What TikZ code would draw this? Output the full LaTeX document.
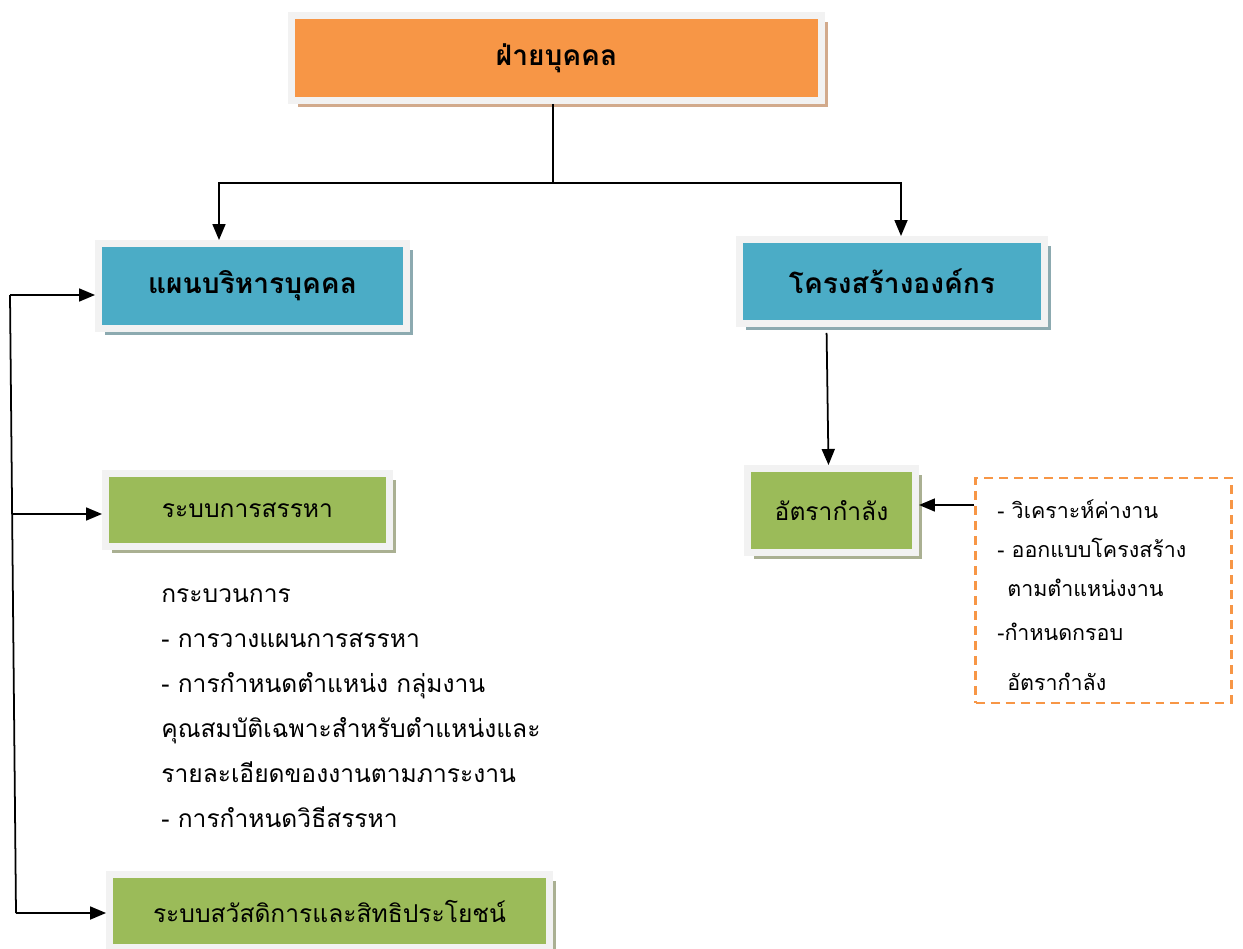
\documentclass[tikz,border=0pt]{standalone}
\usepackage{fontspec}
\setmainfont[Script=Thai]{Loma}
\usetikzlibrary{shadows,arrows.meta}

\definecolor{orangeFill}{HTML}{F79646}
\definecolor{blueFill}{HTML}{4BACC6}
\definecolor{greenFill}{HTML}{9BBB59}
\definecolor{frameGray}{HTML}{F2F2F2}
\definecolor{orangeShadow}{HTML}{D2AA8C}
\definecolor{blueShadow}{HTML}{8CAAB0}
\definecolor{greenShadow}{HTML}{AAB092}

\begin{document}
\begin{tikzpicture}[x=0.02cm, y=-0.02cm,
		frameBox/.style={rectangle, draw=frameGray, line width=0.14cm, outer sep=0.07cm, font=\fontsize{14}{16}\selectfont},
		arr/.style={-{Triangle[length=0.32cm,width=0.26cm]}, line width=1pt}]
			\useasboundingbox (0,0) rectangle (1243,949);

			% top level
			\node[frameBox, fill=orangeFill, minimum width=10.6cm, minimum height=1.7cm, font=\fontsize{16}{18}\selectfont\bfseries,
				drop shadow={shadow xshift=0.13cm, shadow yshift=-0.13cm, fill=orangeShadow, opacity=1}](personnel) at (556.5,58){ฝ่ายบุคคล};

			% second level
			\node[frameBox, fill=blueFill, minimum width=6.16cm, minimum height=1.7cm, font=\fontsize{16}{18}\selectfont\bfseries,
				drop shadow={shadow xshift=0.13cm, shadow yshift=-0.13cm, fill=blueShadow, opacity=1}](plan) at (252.5,286){แผนบริหารบุคคล};
			\node[frameBox, fill=blueFill, minimum width=6.1cm, minimum height=1.68cm, font=\fontsize{16}{18}\selectfont\bfseries,
				drop shadow={shadow xshift=0.13cm, shadow yshift=-0.13cm, fill=blueShadow, opacity=1}](structure) at (892,281.5){โครงสร้างองค์กร};

			% green boxes
			\node[frameBox, fill=greenFill, minimum width=3.36cm, minimum height=1.68cm,
				drop shadow={shadow xshift=0.13cm, shadow yshift=-0.13cm, fill=greenShadow, opacity=1}](rate) at (831.5,510.5){อัตรากำลัง};
			\node[frameBox, fill=greenFill, minimum width=5.68cm, minimum height=1.46cm,
				drop shadow={shadow xshift=0.13cm, shadow yshift=-0.13cm, fill=greenShadow, opacity=1}](recruit) at (247.5,510){ระบบการสรรหา};
			\node[frameBox, fill=greenFill, minimum width=8.8cm, minimum height=1.46cm,
				drop shadow={shadow xshift=0.13cm, shadow yshift=-0.13cm, fill=greenShadow, opacity=1}](welfare) at (329.5,911){ระบบสวัสดิการและสิทธิประโยชน์};

			% notes
			\node[rectangle, draw=orangeFill, dashed, dash pattern=on 0.18cm off 0.12cm, line width=1.2pt, minimum width=5.12cm, minimum height=4.5cm](notes) at (1103.5,590.5){};
			\node[anchor=base west, align=left, inner sep=0pt, font=\fontsize{12.2}{22.2}\selectfont](notesText) at (997,690){- วิเคราะห์ค่างาน\\- ออกแบบโครงสร้าง\\\hspace*{0.2cm}ตามตำแหน่งงาน\\[3pt]-กำหนดกรอบ\\[6pt]\hspace*{0.2cm}อัตรากำลัง};
			\node[anchor=base west, align=left, inner sep=0pt, font=\fontsize{14}{25.6}\selectfont](process) at (161,827){กระบวนการ\\- การวางแผนการสรรหา\\- การกำหนดตำแหน่ง กลุ่มงาน\\คุณสมบัติเฉพาะสำหรับตำแหน่งและ\\รายละเอียดของงานตามภาระงาน\\- การกำหนดวิธีสรรหา};

			% connectors
			\coordinate (split) at (553,183);
			\coordinate (leftTurn) at (219,183);
			\coordinate (rightTurn) at (901,183);
			\draw[line width=1pt] (personnel.south -| split) -- (split);
			\draw[arr] (split) -- (leftTurn) -- (leftTurn |- plan.north);
			\draw[arr] (split) -- (rightTurn) -- (rightTurn |- structure.north);
			\draw[arr, shorten <=0.12cm] ([xshift=-0.1cm]rate.north |- structure.south) -- ([xshift=-0.06cm]rate.north);
			\draw[arr] ([yshift=0.11cm]notes.west |- rate.east) -- ([yshift=0.11cm]rate.east);

			\coordinate (sideTop) at (10,295);
			\coordinate (sideMid) at (12,514);
			\coordinate (sideBot) at (16,913);
			\draw[line width=1pt] (sideTop) -- (sideBot);
			\draw[arr] (sideTop) -- (sideTop -| plan.west);
			\draw[arr] (sideMid) -- (sideMid -| recruit.west);
			\draw[arr] (sideBot) -- (sideBot -| welfare.west);
		\end{tikzpicture}
\end{document}
